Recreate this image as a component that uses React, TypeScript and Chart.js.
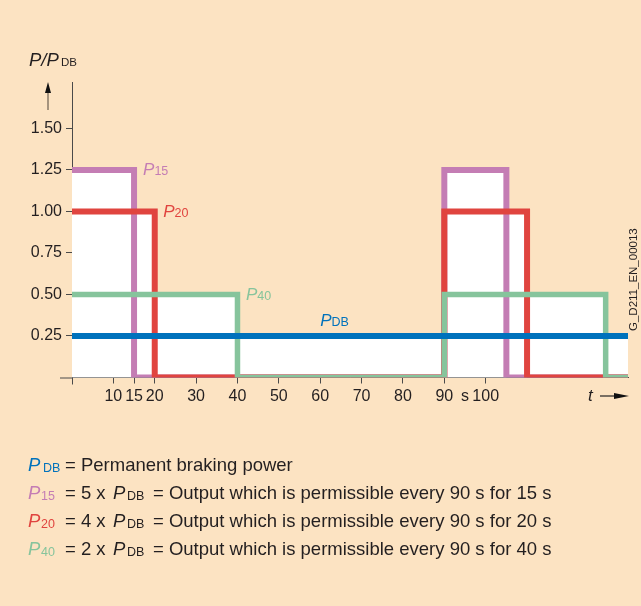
import React, { useEffect, useRef } from "react";
import { Chart, registerables } from "chart.js";

Chart.register(...registerables);

// ---- data ----
const xTicks = [10, 15, 20, 30, 40, 50, 60, 70, 80, 90, 100];
const yTicks = [0.25, 0.5, 0.75, 1.0, 1.25, 1.5];
const xMax = 134.4;
const yMax = 1.78;

const pdbTimes = [0, 134.4];
const pdbValues = [0.25, 0.25];
const p15Times = [0, 15, 90, 105, 134.4];
const p15Values = [1.25, 0, 1.25, 0, 0];
const p20Times = [0, 20, 90, 110, 134.4];
const p20Values = [1.0, 0, 1.0, 0, 0];
const p40Times = [0, 40, 90, 129, 134.4];
const p40Values = [0.5, 0, 0.5, 0, 0];

const BG = "#FCE3C2";
const BLUE = "#0072BC";
const PINK = "#C47DB4";
const RED = "#E0443F";
const GREEN = "#86C49C";
const TEXT = "#231F20";
const AXIS = "#4a4a4a";
const FAM = "'Liberation Sans', Arial, Helvetica, sans-serif";

const toPts = (t: number[], v: number[]) => t.map((x, i) => ({ x, y: v[i] }));

type Part = { t: string; font: string; color: string; dy?: number; x?: number };

function drawRich(ctx: CanvasRenderingContext2D, x: number, y: number, parts: Part[]) {
  let cx = x;
  for (const p of parts) {
    if (p.x !== undefined) cx = p.x;
    ctx.font = p.font;
    ctx.fillStyle = p.color;
    ctx.fillText(p.t, cx, y + (p.dy || 0));
    cx += ctx.measureText(p.t).width;
  }
}

const it17 = `italic 17px ${FAM}`;
const sub = `12.5px ${FAM}`;
const itL = `italic 18.5px ${FAM}`;
const rL = `18.5px ${FAM}`;
const subL = `12.5px ${FAM}`;

const annotations = {
  id: "annotations",
  afterDraw(chart: any) {
    const ctx: CanvasRenderingContext2D = chart.ctx;
    const xs = chart.scales.x;
    const ys = chart.scales.y;
    const { left, bottom } = chart.chartArea;
    ctx.save();
    ctx.textAlign = "left";
    ctx.textBaseline = "alphabetic";

    // axis extensions
    ctx.strokeStyle = AXIS;
    ctx.lineWidth = 1;
    ctx.beginPath();
    ctx.moveTo(left - 12, bottom + 0.5);
    ctx.lineTo(left, bottom + 0.5);
    ctx.moveTo(left + 0.5, bottom);
    ctx.lineTo(left + 0.5, bottom + 7);
    ctx.stroke();

    // y axis title + arrow
    drawRich(ctx, 29, 66, [
      { t: "P/P", font: `italic 18.5px ${FAM}`, color: TEXT },
      { t: "DB", font: `11.5px ${FAM}`, color: TEXT, x: 61 },
    ]);
    ctx.strokeStyle = "#6b5e50";
    ctx.lineWidth = 1.2;
    ctx.beginPath();
    ctx.moveTo(48, 110);
    ctx.lineTo(48, 90);
    ctx.stroke();
    ctx.fillStyle = "#111";
    ctx.beginPath();
    ctx.moveTo(48, 82);
    ctx.lineTo(51, 93);
    ctx.lineTo(45, 93);
    ctx.closePath();
    ctx.fill();

    // x unit "s" and t arrow
    ctx.font = `16px ${FAM}`;
    ctx.fillStyle = TEXT;
    ctx.textAlign = "center";
    ctx.fillText("s", xs.getPixelForValue(95), 401);
    ctx.textAlign = "left";
    ctx.font = it17;
    ctx.fillText("t", 588, 401);
    ctx.strokeStyle = "#222";
    ctx.lineWidth = 1.2;
    ctx.beginPath();
    ctx.moveTo(600, 396);
    ctx.lineTo(618, 396);
    ctx.stroke();
    ctx.fillStyle = "#111";
    ctx.beginPath();
    ctx.moveTo(629, 396);
    ctx.lineTo(614, 393);
    ctx.lineTo(614, 399);
    ctx.closePath();
    ctx.fill();

    // series labels in plot
    drawRich(ctx, xs.getPixelForValue(15) + 9, ys.getPixelForValue(1.25) + 5, [
      { t: "P", font: it17, color: PINK },
      { t: "15", font: sub, color: PINK },
    ]);
    drawRich(ctx, xs.getPixelForValue(20) + 8.5, ys.getPixelForValue(1.0) + 6, [
      { t: "P", font: it17, color: RED },
      { t: "20", font: sub, color: RED },
    ]);
    drawRich(ctx, xs.getPixelForValue(40) + 8.5, ys.getPixelForValue(0.5) + 5.5, [
      { t: "P", font: it17, color: GREEN },
      { t: "40", font: sub, color: GREEN },
    ]);
    drawRich(ctx, xs.getPixelForValue(60), ys.getPixelForValue(0.25) - 10, [
      { t: "P", font: it17, color: BLUE },
      { t: "DB", font: sub, color: BLUE },
    ]);

    // legend text
    drawRich(ctx, 28, 471, [
      { t: "P", font: itL, color: BLUE },
      { t: "DB", font: subL, color: BLUE, dy: 1, x: 43 },
      { t: "= Permanent braking power", font: rL, color: TEXT, x: 65 },
    ]);
    const rows: [string, string, string, string, number][] = [
      ["15", "5", "15", PINK, 499],
      ["20", "4", "20", RED, 527],
      ["40", "2", "40", GREEN, 555],
    ];
    for (const [s, f, d, c, y] of rows) {
      drawRich(ctx, 28, y, [
        { t: "P", font: itL, color: c },
        { t: s, font: subL, color: c, dy: 1, x: 41 },
        { t: `= ${f} x`, font: rL, color: TEXT, x: 65 },
        { t: "P", font: itL, color: TEXT, x: 113 },
        { t: "DB", font: subL, color: TEXT, dy: 1, x: 127 },
        { t: `= Output which is permissible every 90 s for ${d} s`, font: rL, color: TEXT, x: 153 },
      ]);
    }

    // rotated code
    ctx.save();
    ctx.translate(637, 331);
    ctx.rotate(-Math.PI / 2);
    ctx.font = `11.5px ${FAM}`;
    ctx.fillStyle = TEXT;
    ctx.fillText("G_D211_EN_00013", 0, 0);
    ctx.restore();

    ctx.restore();
  },
};

export default function App() {
  const ref = useRef<HTMLCanvasElement | null>(null);
  useEffect(() => {
    document.body.style.margin = "0";
    const canvas = ref.current!;
    const common = {
      pointRadius: 0,
      stepped: true,
      fill: "origin",
      backgroundColor: "#ffffff",
      borderJoinStyle: "miter",
      borderCapStyle: "butt",
      tension: 0,
    };
    const chart = new Chart(canvas, {
      type: "line",
      data: {
        datasets: [
          { ...common, label: "PDB", data: toPts(pdbTimes, pdbValues), borderColor: BLUE, borderWidth: 6, order: 0 },
          { ...common, label: "P40", data: toPts(p40Times, p40Values), borderColor: GREEN, borderWidth: 5.5, order: 1 },
          { ...common, label: "P20", data: toPts(p20Times, p20Values), borderColor: RED, borderWidth: 6, order: 2 },
          { ...common, label: "P15", data: toPts(p15Times, p15Values), borderColor: PINK, borderWidth: 6, order: 3 },
        ] as any,
      },
      options: {
        animation: false,
        responsive: false,
        parsing: false as any,
        layout: { padding: { left: 0, right: 13, top: 82, bottom: 188.5 } },
        plugins: {
          legend: { display: false },
          tooltip: { enabled: false },
          filler: { drawTime: "beforeDatasetsDraw" } as any,
        },
        scales: {
          x: {
            type: "linear",
            min: 0,
            max: xMax,
            afterBuildTicks: (s: any) => {
              s.ticks = xTicks.map((v) => ({ value: v }));
            },
            afterFit: (s: any) => {
              s.height = 40;
            },
            ticks: {
              autoSkip: false,
              maxRotation: 0,
              padding: 3,
              color: TEXT,
              font: { family: FAM, size: 16 },
              callback: (v: any) => String(v),
            },
            grid: { drawOnChartArea: false, drawTicks: true, tickLength: 6, color: AXIS },
            border: { display: true, color: AXIS, width: 1 },
          },
          y: {
            type: "linear",
            min: 0,
            max: yMax,
            afterBuildTicks: (s: any) => {
              s.ticks = yTicks.map((v) => ({ value: v }));
            },
            afterFit: (s: any) => {
              s.width = 72;
            },
            ticks: {
              padding: 4,
              color: TEXT,
              font: { family: FAM, size: 16 },
              callback: (v: any) => Number(v).toFixed(2),
            },
            grid: { drawOnChartArea: false, drawTicks: true, tickLength: 6, color: AXIS },
            border: { display: true, color: AXIS, width: 1 },
          },
        },
      },
      plugins: [annotations],
    });
    return () => chart.destroy();
  }, []);
  return (
    <div style={{ position: "absolute", left: 0, top: 0, width: 641, height: 606, background: BG }}>
      <canvas ref={ref} width={641} height={606} style={{ display: "block" }} />
    </div>
  );
}
